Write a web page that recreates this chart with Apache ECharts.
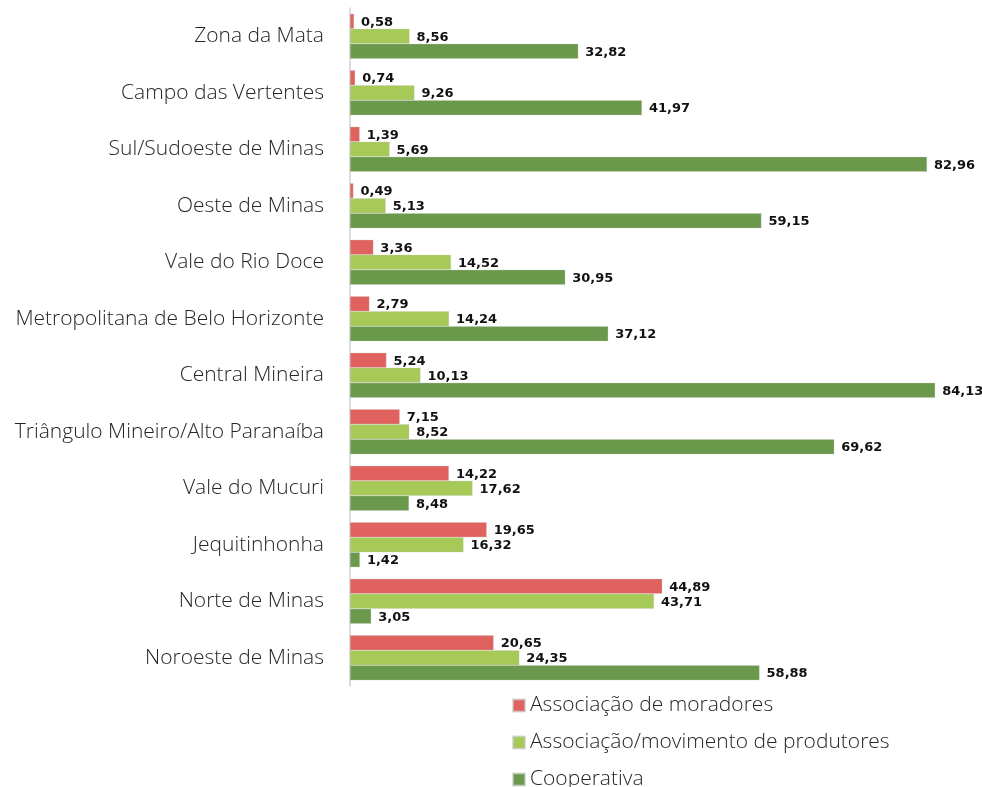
<!DOCTYPE html>
<html>
<head>
<meta charset="utf-8">
<script src="https://cdn.jsdelivr.net/npm/echarts@6/dist/echarts.min.js"></script>
<style>
  html, body { margin: 0; padding: 0; background: #ffffff; }
  #chart { width: 982px; height: 787px; }
</style>
</head>
<body>
<div id="chart"></div>
<script>
// Mesorregiões de Minas Gerais (de cima para baixo)
const regioes = [
  'Zona da Mata',
  'Campo das Vertentes',
  'Sul/Sudoeste de Minas',
  'Oeste de Minas',
  'Vale do Rio Doce',
  'Metropolitana de Belo Horizonte',
  'Central Mineira',
  'Triângulo Mineiro/Alto Paranaíba',
  'Vale do Mucuri',
  'Jequitinhonha',
  'Norte de Minas',
  'Noroeste de Minas'
];

const associacaoMoradores = [0.58, 0.74, 1.39, 0.49, 3.36, 2.79, 5.24, 7.15, 14.22, 19.65, 44.89, 20.65];
const associacaoProdutores = [8.56, 9.26, 5.69, 5.13, 14.52, 14.24, 10.13, 8.52, 17.62, 16.32, 43.71, 24.35];
const cooperativa = [32.82, 41.97, 82.96, 59.15, 30.95, 37.12, 84.13, 69.62, 8.48, 1.42, 3.05, 58.88];

const nomesSeries = [
  'Associação de moradores',
  'Associação/movimento de produtores',
  'Cooperativa'
];
const cores = ['#E0625F', '#A7C957', '#6A994C'];

const fmt = v => v.toFixed(2).replace('.', ',');

function serie(nome, dados, cor) {
  return {
    name: nome,
    type: 'bar',
    data: dados,
    barWidth: 15,
    barGap: '0%',
    itemStyle: { color: cor, borderColor: 'rgba(200,200,200,0.6)', borderWidth: 0.5 },
    label: {
      show: true,
      position: 'right',
      distance: 7,
      offset: [0, 1],
      formatter: p => fmt(p.value),
      color: '#111111',
      fontFamily: 'DejaVu Sans',
      fontWeight: 'bold',
      fontSize: 13
    }
  };
}

const chart = echarts.init(document.getElementById('chart'), null, { renderer: 'canvas' });
chart.setOption({
  animation: false,
  backgroundColor: '#ffffff',
  grid: { left: 350, top: 8, width: 626, height: 678, containLabel: false },
  xAxis: {
    type: 'value',
    min: 0,
    max: 90,
    show: false,
    splitLine: { show: false }
  },
  yAxis: {
    type: 'category',
    data: regioes,
    inverse: true,
    axisTick: { show: false },
    axisLine: { show: true, lineStyle: { color: '#d0d0d0', width: 1.5 } },
    axisLabel: {
      margin: 26,
      color: '#262626',
      fontFamily: 'Open Sans',
      fontWeight: 300,
      fontSize: 21
    }
  },
  legend: {
    orient: 'vertical',
    left: 507,
    top: 690,
    width: 460,
    height: 110,
    itemWidth: 12,
    itemHeight: 12,
    itemGap: 16,
    icon: 'rect',
    textStyle: { color: '#262626', fontFamily: 'Open Sans', fontWeight: 300, fontSize: 21, lineHeight: 21 },
    data: nomesSeries
  },
  series: [
    serie(nomesSeries[0], associacaoMoradores, cores[0]),
    serie(nomesSeries[1], associacaoProdutores, cores[1]),
    serie(nomesSeries[2], cooperativa, cores[2])
  ]
});
</script>
</body>
</html>
